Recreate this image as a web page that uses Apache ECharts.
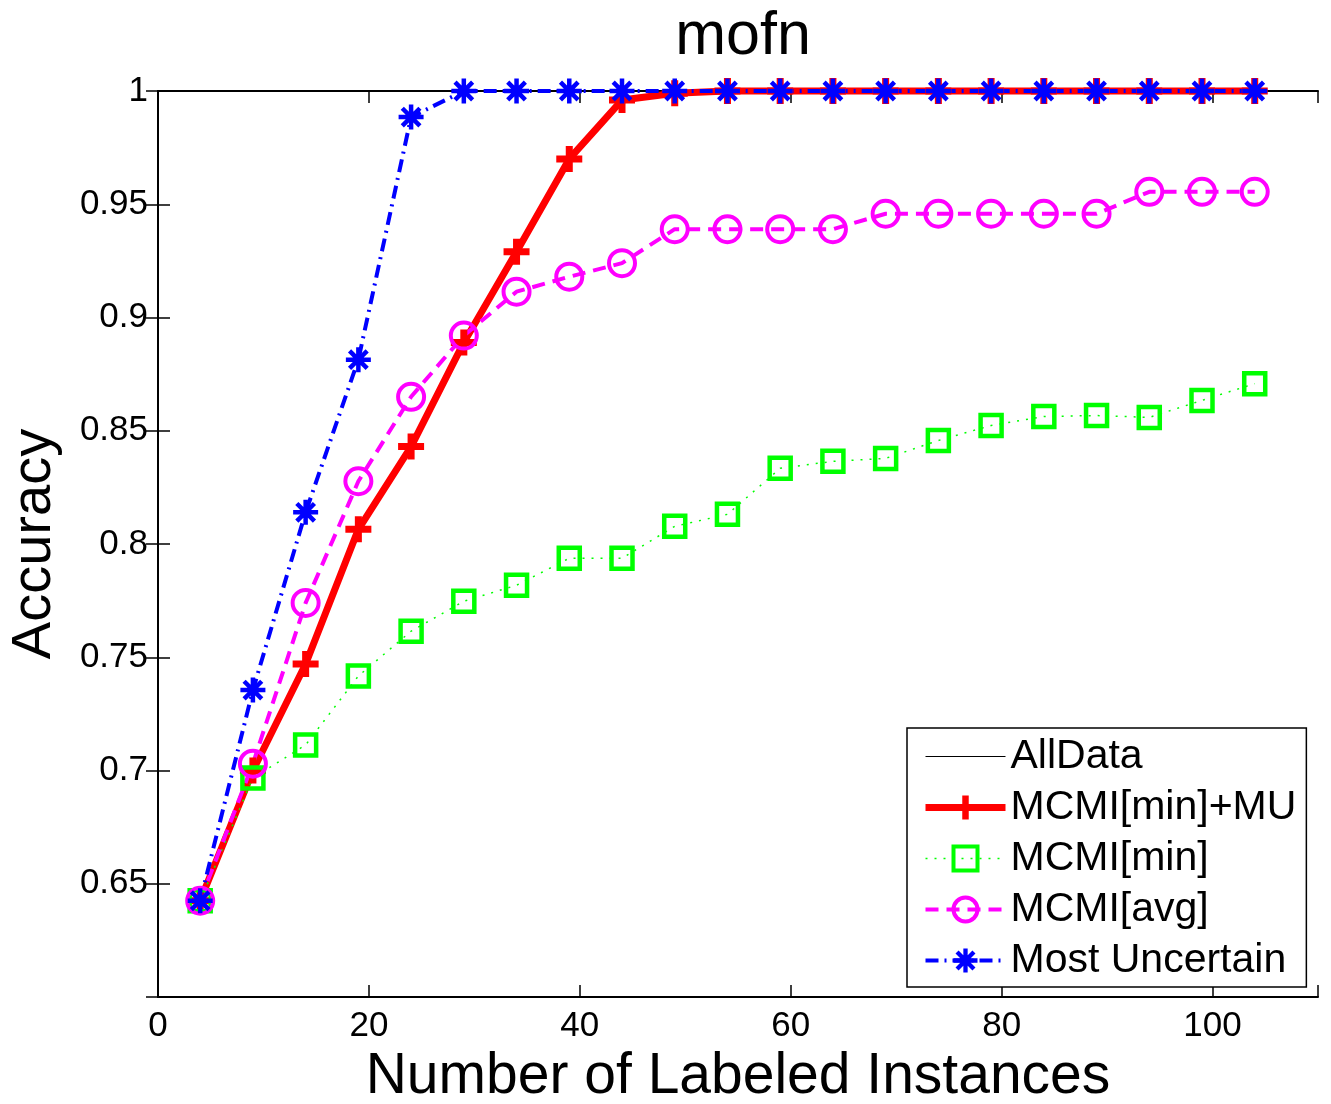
<!DOCTYPE html>
<html>
<head>
<meta charset="utf-8">
<title>mofn</title>
<script src="https://cdn.jsdelivr.net/npm/echarts@6/dist/echarts.min.js"></script>
<style>
  html, body { margin: 0; padding: 0; background: #fff; }
  #chart { width: 1331px; height: 1104px; }
</style>
</head>
<body>
<div id="chart"></div>
<script>
// labeled instances
var xs = [4, 9, 14, 19, 24, 29, 34, 39, 44, 49, 54, 59, 64, 69, 74, 79, 84, 89, 94, 99, 104];

var allData = [1, 1, 1, 1, 1, 1, 1, 1, 1, 1, 1, 1, 1, 1, 1, 1, 1, 1, 1, 1, 1];
var mcmiMinMU = [0.6425, 0.700, 0.747, 0.8065, 0.843, 0.889, 0.929, 0.970, 0.996, 0.999, 1, 1, 1, 1, 1, 1, 1, 1, 1, 1, 1];
var mcmiMin = [0.6425, 0.6967, 0.7113, 0.7417, 0.7615, 0.7747, 0.7818, 0.7937, 0.7937, 0.8078, 0.8131, 0.8334, 0.8365, 0.8378, 0.8457, 0.8523, 0.8563, 0.8567, 0.8559, 0.8634, 0.8708];
var mcmiAvg = [0.6425, 0.703, 0.774, 0.8277, 0.865, 0.892, 0.9114, 0.918, 0.924, 0.939, 0.939, 0.939, 0.939, 0.9458, 0.9458, 0.9458, 0.9458, 0.9458, 0.9555, 0.9555, 0.9555];
var mostUncertain = [0.6425, 0.7355, 0.814, 0.8814, 0.9885, 1, 1, 1, 1, 1, 1, 1, 1, 1, 1, 1, 1, 1, 1, 1, 1];

function pairs(ys) {
    return xs.map(function (x, i) { return [x, ys[i]]; });
}

var FONT = "'Liberation Sans', Arial, Helvetica, sans-serif";

// matlab style markers
var plusPath = 'path://M-1.35,-5 L1.35,-5 L1.35,-1.35 L5,-1.35 L5,1.35 L1.35,1.35 L1.35,5 L-1.35,5 L-1.35,1.35 L-5,1.35 L-5,-1.35 L-1.35,-1.35 Z';
var starPath = 'path://M-5,-0.9 L5,-0.9 L5,0.9 L-5,0.9 Z ' +
    'M0.9,-5 L0.9,5 L-0.9,5 L-0.9,-5 Z ' +
    'M-2.89,-4.16 L4.16,2.89 L2.89,4.16 L-4.16,-2.89 Z ' +
    'M4.16,-2.89 L-2.89,4.16 L-4.16,2.89 L2.89,-4.16 Z';

var chart = echarts.init(document.getElementById('chart'));

var axisLine = { show: true, lineStyle: { color: '#000', width: 2 } };
var axisTick = { show: true, inside: true, length: 12, lineStyle: { color: '#000', width: 1.5 } };

var option = {
    backgroundColor: '#fff',
    animation: false,
    textStyle: { fontFamily: FONT },
    title: {
        text: 'mofn',
        left: 738,
        textAlign: 'center',
        top: 2,
        textStyle: { fontSize: 61, fontWeight: 'normal', color: '#000', fontFamily: FONT }
    },
    grid: { left: 158, right: 13, top: 91, bottom: 107, outerBoundsMode: 'none', containLabel: false },
    legend: {
        orient: 'vertical',
        left: 907,
        top: 728,
        backgroundColor: '#fff',
        borderColor: '#000',
        borderWidth: 1.5,
        borderRadius: 0,
        padding: [8, 10, 6, 15],
        itemWidth: 80,
        itemHeight: 30,
        itemGap: 10,
        textStyle: { fontSize: 41, color: '#000', fontFamily: FONT, lineHeight: 40 },
        data: [
            { name: 'AllData', itemStyle: { color: 'rgba(0,0,0,0)', borderWidth: 0 }, lineStyle: { width: 1 } },
            { name: 'MCMI[min]+MU', lineStyle: { width: 7 } },
            { name: 'MCMI[min]', itemStyle: { borderWidth: 4 }, lineStyle: { width: 1.5 } },
            { name: 'MCMI[avg]', itemStyle: { borderWidth: 4 }, lineStyle: { width: 4 } },
            { name: 'Most Uncertain', lineStyle: { width: 4 } }
        ]
    },
    xAxis: [
        {
            type: 'value',
            min: 0,
            max: 110,
            interval: 20,
            name: 'Number of Labeled Instances',
            nameLocation: 'middle',
            nameGap: 43,
            nameTextStyle: { fontSize: 57, color: '#000', fontFamily: FONT },
            axisLine: axisLine,
            axisTick: axisTick,
            splitLine: { show: false },
            axisLabel: {
                fontSize: 35,
                color: '#000',
                margin: 12,
                fontFamily: FONT,
                formatter: function (v) { return v > 105 ? '' : String(v); }
            }
        },
        {
            type: 'value',
            position: 'top',
            min: 0,
            max: 110,
            interval: 20,
            axisLine: axisLine,
            axisTick: axisTick,
            splitLine: { show: false },
            axisLabel: { show: false }
        }
    ],
    yAxis: [
        {
            type: 'value',
            min: 0.6,
            max: 1,
            interval: 0.05,
            name: 'Accuracy',
            nameLocation: 'middle',
            nameGap: 95,
            nameTextStyle: { fontSize: 56, color: '#000', fontFamily: FONT },
            axisLine: axisLine,
            axisTick: axisTick,
            splitLine: { show: false },
            axisLabel: {
                fontSize: 35,
                color: '#000',
                margin: 10,
                fontFamily: FONT,
                formatter: function (v) {
                    if (Math.abs(v - 0.6) < 1e-6) return '';
                    return String(+v.toFixed(2));
                }
            }
        },
        {
            type: 'value',
            position: 'right',
            min: 0.6,
            max: 1,
            interval: 0.05,
            axisLine: axisLine,
            axisTick: axisTick,
            splitLine: { show: false },
            axisLabel: { show: false }
        }
    ],
    series: [
        {
            name: 'AllData',
            type: 'line',
            data: pairs(allData),
            symbol: 'none',
            showSymbol: false,
            clip: false,
            itemStyle: { color: '#000' },
            lineStyle: { color: '#000', width: 1 }
        },
        {
            name: 'MCMI[min]+MU',
            type: 'line',
            data: pairs(mcmiMinMU),
            symbol: plusPath,
            symbolSize: 26,
            clip: false,
            itemStyle: { color: '#ff0000' },
            lineStyle: { color: '#ff0000', width: 7 }
        },
        {
            name: 'MCMI[min]',
            type: 'line',
            data: pairs(mcmiMin),
            symbol: 'rect',
            symbolSize: 21,
            clip: false,
            itemStyle: { color: 'rgba(0,0,0,0)', borderColor: '#00ff00', borderWidth: 4.5 },
            lineStyle: { color: '#00ff00', width: 1.5, type: [2, 7] }
        },
        {
            name: 'MCMI[avg]',
            type: 'line',
            data: pairs(mcmiAvg),
            symbol: 'circle',
            symbolSize: 26,
            clip: false,
            itemStyle: { color: 'rgba(0,0,0,0)', borderColor: '#ff00ff', borderWidth: 4 },
            lineStyle: { color: '#ff00ff', width: 4, type: [13, 8] }
        },
        {
            name: 'Most Uncertain',
            type: 'line',
            data: pairs(mostUncertain),
            symbol: starPath,
            symbolSize: 25,
            clip: false,
            itemStyle: { color: '#0000ff' },
            lineStyle: { color: '#0000ff', width: 4, type: [13, 6, 2, 6] }
        }
    ]
};

chart.setOption(option);

window.addEventListener('resize', function () {
    chart.resize();
});
</script>
</body>
</html>
